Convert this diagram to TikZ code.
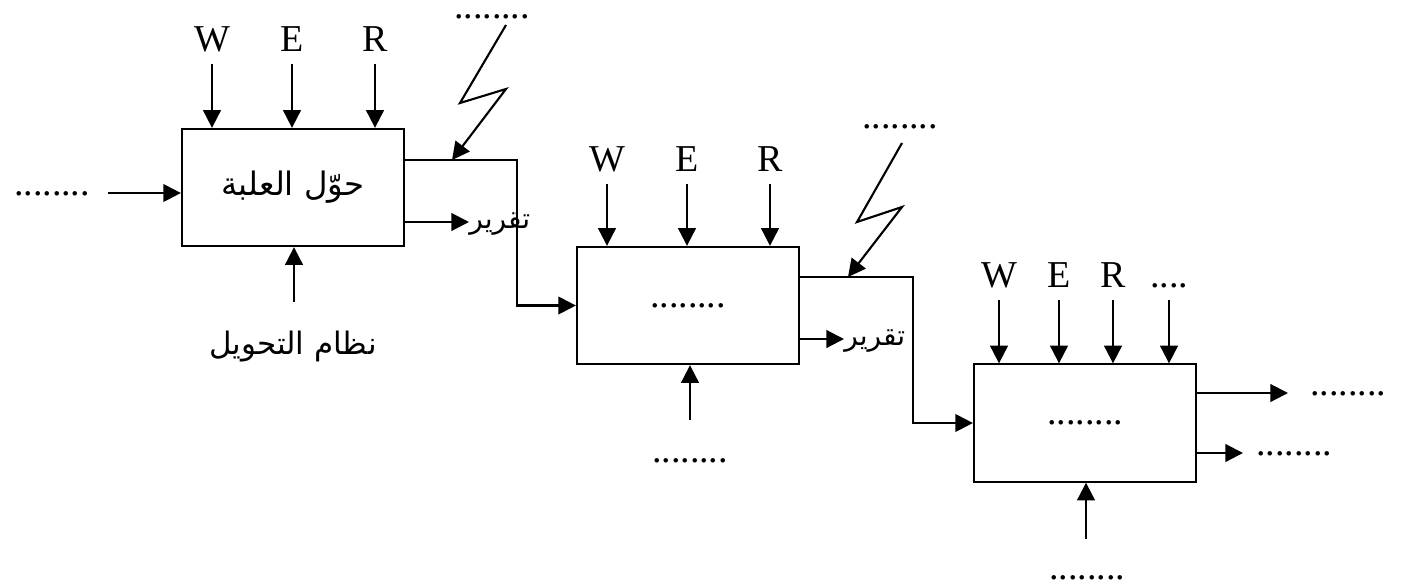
\documentclass[tikz,border=0pt]{standalone}
\usepackage{fontspec}
\setmainfont{Liberation Serif}
\newfontfamily\arabicfont[Script=Arabic]{DejaVu Sans}
\TeXXeTstate=1
\usetikzlibrary{arrows.meta}

\tikzset{
  block/.style={draw,line width=1.5pt,minimum width=5.55cm,minimum height=2.93cm,inner sep=0pt},
  arr/.style={-{Triangle[length=0.44cm,width=0.44cm]},line width=1.5pt},
  lbl/.style={font=\fontsize{27}{32}\selectfont,inner xsep=0pt,inner ysep=0.3cm,text height=0.66em,text depth=0pt},
  dotlbl/.style={font=\fontsize{27}{32}\selectfont,inner sep=0pt,anchor=base},
  arab/.style={font=\arabicfont\fontsize{22}{26}\selectfont,inner sep=0pt},
  rep/.style={font=\arabicfont\fontsize{20}{24}\selectfont,inner sep=0pt,anchor=west}
}

\begin{document}
\begin{tikzpicture}[x=0.025cm,y=-0.025cm]
\useasboundingbox (0,0) rectangle (1404,587);

% ---- the three blocks ----
\node[block] (box1) at (293,187.5) {\arabicfont\fontsize{23}{27}\selectfont\beginR حوّل العلبة\endR};
\node[block] (box2) at (688,305.5) {\fontsize{27}{32}\selectfont ........};
\node[block] (box3) at (1085,423) {\fontsize{27}{32}\selectfont ........};

% ---- W E R on top ----
\node[lbl] (w1) at (212,47) {W};
\node[lbl] (e1) at (292,47) {E};
\node[lbl] (r1) at (375,47) {R};
\node[lbl] (w2) at (607,167) {W};
\node[lbl] (e2) at (687,167) {E};
\node[lbl] (r2) at (770,167) {R};
\node[lbl] (w3) at (999,283) {W};
\node[lbl] (e3) at (1059,283) {E};
\node[lbl] (r3) at (1113,283) {R};
\node[lbl] (x3) at (1169,283) {....};

\foreach \n/\b in {w1/box1,e1/box1,r1/box1,w2/box2,e2/box2,r2/box2,w3/box3,e3/box3,r3/box3,x3/box3}
  \draw[arr] (\n) -- (\n |- \b.north);

% ---- input on the left ----
\node[dotlbl] (in1) at (52,195) {........};
\coordinate (i1) at (108,193);
\draw[arr] (i1) -- (i1 -| box1.west);

% ---- bottom inputs ----
\node[arab] (sys1) at (293,347) {\beginR نظام التحويل\endR};
\coordinate (b1) at (294,302);
\draw[arr] (b1) -- (b1 |- box1.south);

\node[dotlbl] (sys2) at (690,462) {........};
\coordinate (b2) at (690,420);
\draw[arr] (b2) -- (b2 |- box2.south);

\node[dotlbl] (sys3) at (1087,579) {........};
\coordinate (b3) at (1086,539);
\draw[arr] (b3) -- (b3 |- box3.south);

% ---- reports ----
\node[rep] (rep1) at (469,224) {\beginR تقرير\endR};
\draw[arr] (box1.east |- 0,222) -- (rep1.west |- 0,222);
\node[rep] (rep2) at (844,341) {\beginR تقرير\endR};
\draw[arr] (box2.east |- 0,339) -- (rep2.west |- 0,339);

% ---- links between blocks ----
\coordinate (bend1) at (517,160);
\draw[arr] (box1.east |- bend1) -- (bend1) |- (box2.west);
\coordinate (bend2) at (913,277);
\draw[arr] (box2.east |- bend2) -- (bend2) |- (box3.west);

% ---- disturbances (lightning) ----
\node[dotlbl] (dist1) at (492,18) {........};
\coordinate (hit1) at (452,160);
\coordinate (bolt1) at (506,25);
\draw[arr] (bolt1) -- ++(-46,78) -- ++(46,-14) -- (hit1);

\node[dotlbl] (dist2) at (900,128) {........};
\coordinate (hit2) at (848,277);
\coordinate (bolt2) at (902,143);
\draw[arr] (bolt2) -- ++(-45,79) -- ++(45,-15) -- (hit2);

% ---- outputs of the last block ----
\coordinate (o1) at (1288,393);
\draw[arr] (box3.east |- o1) -- (o1);
\node[dotlbl] (out1) at (1348,395) {........};
\coordinate (o2) at (1243,453);
\draw[arr] (box3.east |- o2) -- (o2);
\node[dotlbl] (out2) at (1294,455) {........};

\end{tikzpicture}
\end{document}
